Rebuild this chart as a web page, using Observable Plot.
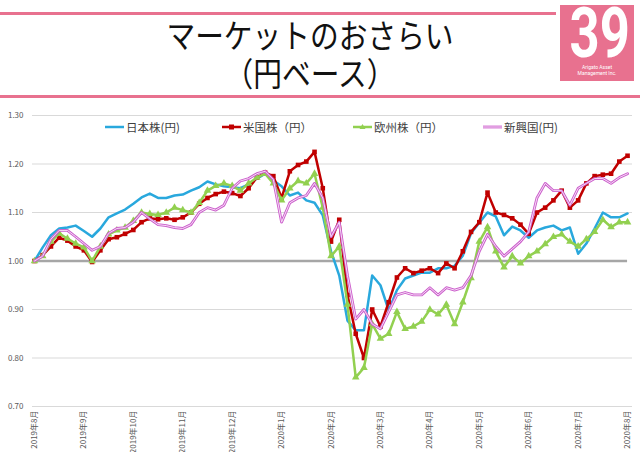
<!DOCTYPE html>
<html><head><meta charset="utf-8">
<script src="https://cdn.jsdelivr.net/npm/d3@7"></script>
<script src="https://cdn.jsdelivr.net/npm/@observablehq/plot@0.6"></script>
<style>
html,body{margin:0;padding:0;background:#fff;}
#wrap{position:relative;width:640px;height:452px;overflow:hidden;font-family:'Noto Sans CJK JP','Noto Sans',sans-serif;}
.bar{position:absolute;background:#E8718F;}
.tl{position:absolute;left:0;width:620px;text-align:center;font-size:33px;line-height:37px;color:#111;transform:scaleX(0.87);transform-origin:310px 0;white-space:nowrap;}
#badge{position:absolute;left:560px;top:5px;width:74px;height:76px;background:#E8718F;}
#num{position:absolute;left:0;top:0;width:74px;text-align:center;font-family:Roboto,'DejaVu Sans',sans-serif;font-weight:700;font-size:71px;line-height:56px;color:#fff;transform:scaleX(0.74);transform-origin:37px 0;white-space:nowrap;}
.co{position:absolute;left:0;width:74px;text-align:center;font-family:Roboto,sans-serif;font-size:5px;line-height:6px;color:#fff;white-space:nowrap;}
#chart{position:absolute;left:0;top:100px;}
.lg{position:absolute;top:120px;height:14px;display:flex;align-items:center;font-size:11.5px;color:#404040;white-space:nowrap;}
.lg svg{margin-right:2px;}
</style></head>
<body>
<div id="wrap">
  <div class="bar" style="left:0;top:12px;width:556px;height:3px;"></div>
  <div class="bar" style="left:0;top:95px;width:640px;height:3px;"></div>
  <div class="tl" style="top:16px;">マーケットのおさらい</div>
  <div class="tl" style="top:54px;">（円ベース）</div>
  <div id="badge"><div id="num">39</div><div class="co" style="top:59px;">Arigato Asset</div><div class="co" style="top:65px;">Management Inc.</div></div>
  <div id="chart"></div>
  <div id="legend"></div>
</div>
<script>
const months = ["2019年8月","2019年9月","2019年10月","2019年11月","2019年12月","2020年1月","2020年2月","2020年3月","2020年4月","2020年5月","2020年6月","2020年7月","2020年8月"];
const yTicks = [0.70, 0.80, 0.90, 1.00, 1.10, 1.20, 1.30];
const STEP = 1/6; // one sample every 1/6 month
const seriesNames = ["日本株(円)", "米国株（円）", "欧州株（円）", "新興国(円)"];
const baseline = [1.00];

const japan = [1.000,1.028,1.053,1.067,1.069,1.073,1.062,1.050,1.067,1.090,1.098,1.106,1.118,1.131,1.139,1.130,1.130,1.135,1.137,1.145,1.152,1.164,1.158,1.154,1.152,1.150,1.158,1.170,1.180,1.166,1.154,1.135,1.141,1.125,1.120,1.094,1.020,0.970,0.877,0.857,0.857,0.970,0.950,0.898,0.940,0.964,0.970,0.976,0.976,0.985,0.985,0.990,1.011,1.057,1.079,1.100,1.092,1.053,1.071,1.063,1.048,1.063,1.069,1.073,1.063,1.069,1.015,1.036,1.067,1.100,1.090,1.090,1.098];
const us = [1.000,1.012,1.030,1.048,1.042,1.030,1.022,0.998,1.022,1.045,1.049,1.056,1.064,1.080,1.088,1.086,1.088,1.085,1.090,1.100,1.118,1.130,1.138,1.143,1.140,1.134,1.150,1.172,1.182,1.175,1.130,1.185,1.198,1.205,1.225,1.150,1.040,1.085,0.930,0.850,0.800,0.900,0.865,0.915,0.966,0.985,0.975,0.980,0.985,0.975,0.995,0.985,1.020,1.060,1.080,1.141,1.100,1.095,1.088,1.075,1.056,1.100,1.110,1.125,1.145,1.110,1.125,1.160,1.175,1.178,1.180,1.205,1.217];
const europe = [1.000,1.010,1.040,1.057,1.046,1.036,1.028,1.000,1.030,1.055,1.063,1.069,1.083,1.100,1.097,1.095,1.100,1.110,1.105,1.100,1.120,1.145,1.155,1.160,1.155,1.145,1.160,1.172,1.180,1.160,1.125,1.150,1.165,1.160,1.180,1.110,1.010,1.030,0.910,0.760,0.780,0.870,0.840,0.850,0.895,0.860,0.865,0.875,0.900,0.890,0.910,0.870,0.915,0.965,1.040,1.070,1.020,0.987,1.010,0.995,1.010,1.020,1.035,1.050,1.055,1.040,1.030,1.045,1.060,1.085,1.070,1.080,1.080];
const emerging = [1.000,1.010,1.045,1.063,1.063,1.050,1.036,1.022,1.030,1.057,1.067,1.069,1.080,1.100,1.087,1.075,1.073,1.069,1.067,1.075,1.100,1.110,1.105,1.115,1.150,1.165,1.170,1.180,1.185,1.168,1.080,1.120,1.130,1.135,1.160,1.130,1.050,1.080,0.970,0.880,0.900,0.870,0.860,0.895,0.930,0.935,0.930,0.930,0.945,0.930,0.945,0.940,0.945,0.970,1.020,1.055,1.030,1.010,1.025,1.040,1.060,1.130,1.160,1.145,1.145,1.115,1.150,1.160,1.170,1.170,1.160,1.172,1.180];

const colors = {jp:"#29A8DD", us:"#C00000", eu:"#92D050", em:"#CC5FCC"};
const rows = arr => arr.map((v, i) => ({t: i * STEP, v}));
const jpR = rows(japan), usR = rows(us), euR = rows(europe), emR = rows(emerging);
const last = (japan.length - 1) * STEP;

const chart = Plot.plot({
  width: 640, height: 352,
  marginTop: 15, marginBottom: 46, marginLeft: 32, marginRight: 8,
  x: {domain: [-0.04, 12.1]},
  y: {domain: [0.70, 1.30], label: null},
  style: {fontFamily: "'Noto Sans CJK JP', sans-serif", fontSize: "8px", color: "#595959", background: "white", overflow: "visible"},
  marks: [
    Plot.ruleY(yTicks.filter(d => d !== 1), {stroke: "#d9d9d9", strokeWidth: 1}),
    Plot.axisY(yTicks, {tickSize: 0, tickPadding: 9, tickFormat: d3.format(".2f"), label: null, fill: "#595959"}),
    Plot.axisX(d3.range(months.length), {tickSize: 0, tickPadding: 4, tickRotate: -90, tickFormat: i => months[i], label: null, fill: "#595959"}),
    Plot.ruleY(baseline, {x1: 0, x2: last, stroke: "#A6A6A6", strokeWidth: 2.5}),
    Plot.line(jpR, {x: "t", y: "v", stroke: colors.jp, strokeWidth: 2.5}),
    Plot.line(usR, {x: "t", y: "v", stroke: colors.us, strokeWidth: 2.5}),
    Plot.dot(usR, {x: "t", y: "v", symbol: "square", r: 2.6, fill: colors.us, stroke: "none"}),
    Plot.line(euR, {x: "t", y: "v", stroke: colors.eu, strokeWidth: 2.5}),
    Plot.dot(euR, {x: "t", y: "v", symbol: "triangle", r: 2.8, fill: colors.eu, stroke: "none"}),
    Plot.line(emR, {x: "t", y: "v", stroke: colors.em, strokeWidth: 2.8}),
    Plot.line(emR, {x: "t", y: "v", stroke: "#F6DDF6", strokeWidth: 1})
  ]
});
document.getElementById("chart").appendChild(chart);

// legend
const lgDefs = [
  {name: seriesNames[0], left: 105, kind: "jp"},
  {name: seriesNames[1], left: 222, kind: "us"},
  {name: seriesNames[2], left: 353, kind: "eu"},
  {name: seriesNames[3], left: 483, kind: "em"}
];
const lg = document.getElementById("legend");
for (const d of lgDefs) {
  const el = document.createElement("div");
  el.className = "lg";
  el.style.left = d.left + "px";
  let svg = `<svg width="19" height="10" viewBox="0 0 19 10">`;
  if (d.kind === "em") {
    svg += `<line x1="0" y1="5" x2="19" y2="5" stroke="${colors.em}" stroke-width="2.8"/><line x1="0" y1="5" x2="19" y2="5" stroke="#F6DDF6" stroke-width="1"/>`;
  } else {
    svg += `<line x1="0" y1="5" x2="19" y2="5" stroke="${colors[d.kind]}" stroke-width="2.5"/>`;
  }
  if (d.kind === "us") svg += `<rect x="7" y="2.5" width="5" height="5" fill="${colors.us}"/>`;
  if (d.kind === "eu") svg += `<path d="M9.5 2 L12.5 7 L6.5 7 Z" fill="${colors.eu}"/>`;
  svg += `</svg>`;
  el.innerHTML = svg + `<span>${d.name}</span>`;
  lg.appendChild(el);
}
</script>
</body></html>
